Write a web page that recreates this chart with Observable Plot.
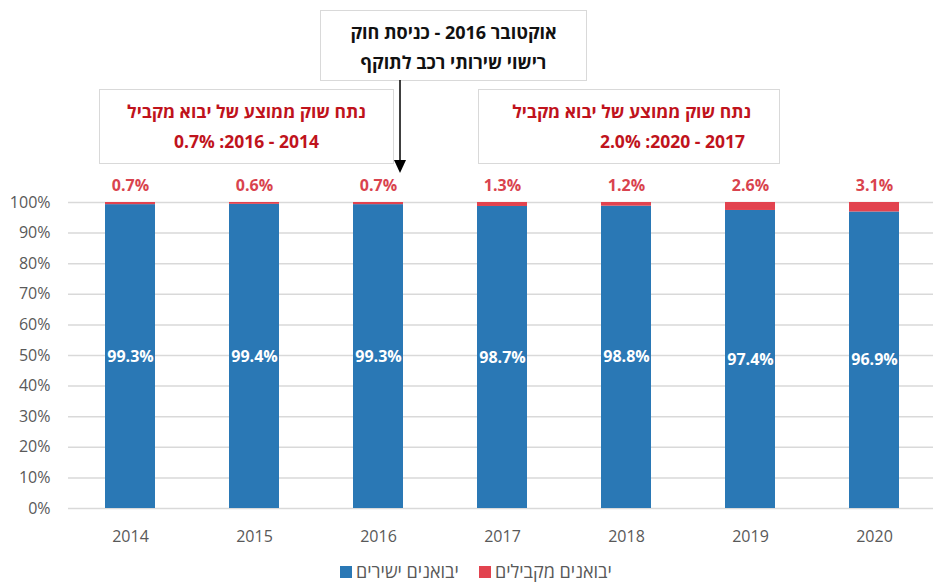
<!DOCTYPE html>
<html lang="he">
<head>
<meta charset="utf-8">
<script src="https://cdn.jsdelivr.net/npm/d3@7"></script>
<script src="https://cdn.jsdelivr.net/npm/@observablehq/plot@0.6"></script>
<style>
  html, body { margin: 0; padding: 0; background: #fff; }
  body { width: 933px; height: 583px; position: relative; overflow: hidden; font-family: "Open Sans", "DejaVu Sans", sans-serif; }
  #chart { position: absolute; left: 0; top: 0; }
  .box { position: absolute; border: 1.5px solid #d9d9d9; background: #fff; box-sizing: border-box; text-align: center; font-weight: 700; direction: rtl; }
  .box div { position: absolute; left: 0; right: 0; white-space: nowrap; }
  .legend { position: absolute; top: 559px; left: 0; width: 933px; font-size: 18px; color: #595959; }
  .legend span.sw { position: absolute; width: 12px; height: 12px; top: 7px; }
  .legend span.tx { position: absolute; direction: rtl; white-space: nowrap; }
</style>
</head>
<body>
<div id="chart"></div>

<div class="box" style="left:320px; top:10px; width:267px; height:71px; color:#111; font-size:18px;">
  <div style="top:9px;">אוקטובר 2016 - כניסת חוק</div>
  <div style="top:39px;">רישוי שירותי רכב לתוקף</div>
</div>
<div class="box" style="left:99px; top:89px; width:295px; height:75px; color:#c0131c; font-size:17.5px;">
  <div style="top:9px;">נתח שוק ממוצע של יבוא מקביל</div>
  <div style="top:39px;">2014 - 2016: 0.7%</div>
</div>
<div class="box" style="left:478px; top:89px; width:302px; height:75px; color:#c0131c; font-size:17.5px;">
  <div style="top:9px; right:28px; left:auto;">נתח שוק ממוצע של יבוא מקביל</div>
  <div style="top:39px; right:34px; left:auto;">2017 - 2020: 2.0%</div>
</div>
<svg style="position:absolute; left:392px; top:80px;" width="16" height="95">
  <line x1="8" y1="0" x2="8" y2="82" stroke="#000" stroke-width="1.5"></line>
  <path d="M2,80 L14,80 L8,93 Z" fill="#000"></path>
</svg>

<div class="legend">
  <span class="sw" style="left:340px; background:#2a78b5;"></span>
  <span class="tx" style="left:356px;">יבואנים ישירים</span>
  <span class="sw" style="left:479px; background:#e2434f;"></span>
  <span class="tx" style="left:495px;">יבואנים מקבילים</span>
</div>

<script>
const years = ["2014", "2015", "2016", "2017", "2018", "2019", "2020"];
const directShare = [99.3, 99.4, 99.3, 98.7, 98.8, 97.4, 96.9];
const parallelShare = [0.7, 0.6, 0.7, 1.3, 1.2, 2.6, 3.1];
const yTicks = [0, 10, 20, 30, 40, 50, 60, 70, 80, 90, 100];

const rows = years.map((y, i) => ({year: y, direct: directShare[i], parallel: parallelShare[i]}));

const blue = "#2a78b5";
const red = "#e2434f";
const font = "'Open Sans', 'DejaVu Sans', sans-serif";

const chart = Plot.plot({
  width: 933,
  height: 583,
  marginTop: 202,
  marginBottom: 75,
  marginLeft: 68,
  marginRight: 0,
  style: {fontFamily: font, fontSize: "16px", color: "#595959", background: "transparent", overflow: "visible"},
  x: {domain: years, range: [65.7, 938.3], paddingInner: 0.6, paddingOuter: 0.3, label: null},
  y: {domain: [0, 100], label: null},
  marks: [
    Plot.ruleY(yTicks, {stroke: "#d9d9d9", strokeWidth: 1.5}),
    Plot.axisY({ticks: yTicks, tickSize: 0, tickPadding: 18, tickFormat: d => d + "%", fontSize: 16, fill: "#595959"}),
    Plot.axisX({tickSize: 0, tickPadding: 22, fontSize: 16, fill: "#595959"}),
    Plot.barY(rows, {x: "year", y1: 0, y2: "direct", fill: blue}),
    Plot.barY(rows, {x: "year", y1: "direct", y2: 100, fill: red}),
    Plot.text(rows, {x: "year", y: d => d.direct / 2, text: d => d.direct.toFixed(1) + "%", fill: "#fff", fontWeight: 700, fontSize: 16}),
    Plot.text(rows, {x: "year", y: 100, dy: -17, text: d => d.parallel.toFixed(1) + "%", fill: "#d9434e", fontWeight: 700, fontSize: 16})
  ]
});
document.getElementById("chart").appendChild(chart);
</script>
</body>
</html>
